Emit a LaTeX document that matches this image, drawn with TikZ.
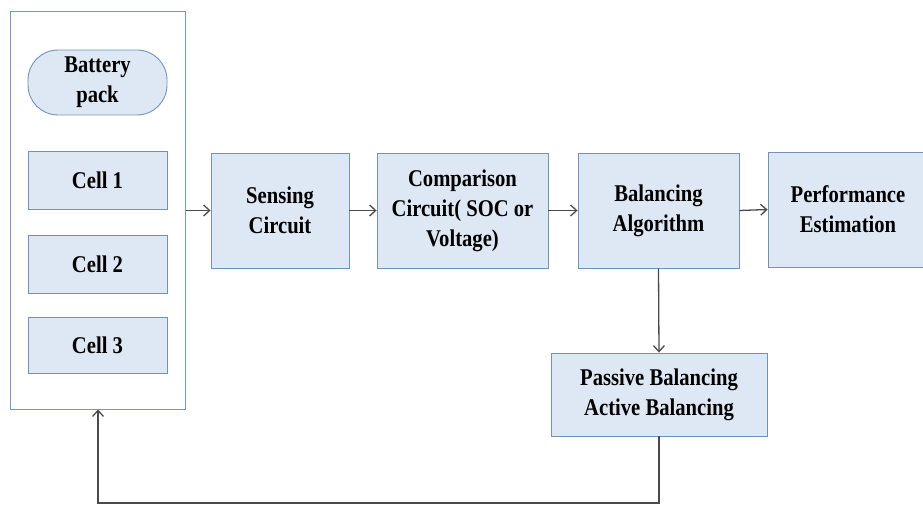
\documentclass[tikz,border=0pt]{standalone}
\usepackage{fontspec}
\setmainfont{Liberation Serif}[FakeStretch=0.86]
\usetikzlibrary{arrows.meta}
\begin{document}
\begin{tikzpicture}[x=1pt,y=-1pt,
  blk/.style={draw=boxline,fill=boxfill,line width=0.9pt,align=center,inner sep=0pt,
     font=\fontsize{24}{30}\selectfont\bfseries},
  outerbox/.style={draw=outerline,line width=1pt,inner sep=0pt},
  arr/.style={draw=arrgray,line width=1.3pt,-{Straight Barb[length=6pt,width=11pt]}}]
\definecolor{boxline}{HTML}{7093BE}
\definecolor{boxfill}{HTML}{DEE8F4}
\definecolor{outerline}{HTML}{6A9CD3}
\definecolor{arrgray}{HTML}{4A4A4A}
\useasboundingbox (0,0) rectangle (923,508);
\node[outerbox,minimum width=175pt,minimum height=397pt] (outer) at (97.5,210.5) {};
\node[blk,rounded corners=30pt,minimum width=139pt,minimum height=65pt] (bat) at (97.5,82.5) {\raisebox{-3pt}{Battery}\\\raisebox{-3pt}{pack}};
\node[blk,minimum width=139pt,minimum height=58pt] (c1) at (97.5,180) {\raisebox{-1pt}{Cell 1}};
\node[blk,minimum width=139pt,minimum height=58pt] (c2) at (97.5,264) {\raisebox{-1pt}{Cell 2}};
\node[blk,minimum width=139pt,minimum height=56pt] (c3) at (97.5,345) {\raisebox{-1pt}{Cell 3}};
\node[blk,minimum width=138pt,minimum height=115pt] (sense) at (280,210.5) {Sensing\\Circuit};
\node[blk,minimum width=171pt,minimum height=115pt] (comp) at (462.5,210.5) {Comparison\\Circuit( SOC or\\Voltage)};
\node[blk,minimum width=161pt,minimum height=115pt] (bal) at (658.5,210.5) {Balancing\\Algorithm};
\node[blk,minimum width=160pt,minimum height=115pt,text width=155pt] (perf) at (848,209.5) {Performance\\Estimation\hspace*{8pt}};
\node[blk,minimum width=216pt,minimum height=83pt] (pas) at (659,394.5) {Passive Balancing\\Active Balancing};
\coordinate (fb) at (98,503);
\draw[arr] (outer.east) -- (sense.west);
\draw[arr] (sense.east) -- (comp.west);
\draw[arr] (comp.east) -- (bal.west);
\draw[arr] (bal.east) -- (perf.west);
\draw[arr] (bal.south) -- (pas.north);
\draw[arr] (pas.south) |- (fb) -- (fb |- outer.south);
\end{tikzpicture}
\end{document}
